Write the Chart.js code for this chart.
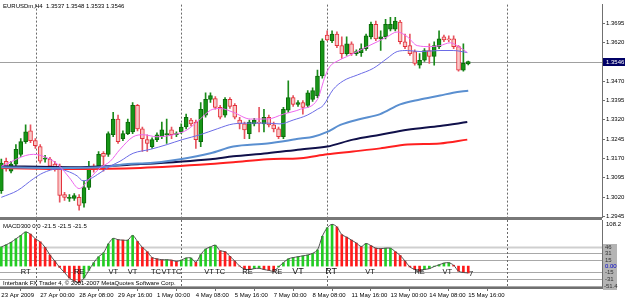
<!DOCTYPE html>
<html>
<head>
<meta charset="utf-8">
<script src="https://cdn.jsdelivr.net/npm/chart.js@4.4.0/dist/chart.umd.min.js"></script>
<style>
  html, body { margin: 0; padding: 0; background: #fff; }
  #wrap { position: relative; width: 625px; height: 300px; overflow: hidden; background: #fff; }
  canvas { position: absolute; left: 0; }
  #main { top: 0; }
  #macd { top: 217px; }
</style>
</head>
<body>
<div id="wrap">
  <canvas id="macd" width="625" height="83"></canvas>
  <canvas id="main" width="625" height="224"></canvas>
</div>
<script>
// EURUSDm H4 candles, bar 0 = 23 Apr 2009, last bar = 15 May 16:00
const opens = [1.3045,1.3159,1.3121,1.3148,1.3186,1.3235,1.3277,1.3239,1.3216,1.3167,
  1.3167,1.3148,1.3140,1.3030,1.3015,1.3015,1.3019,1.2996,1.3057,1.3140,
  1.3140,1.3190,1.3186,1.3262,1.3323,1.3247,1.3266,1.3273,1.3376,1.3285,
  1.3243,1.3216,1.3243,1.3254,1.3262,1.3281,1.3262,1.3273,1.3292,1.3319,
  1.3311,1.3235,1.3338,1.3399,1.3402,1.3368,1.3338,1.3399,1.3376,1.3319,
  1.3304,1.3266,1.3304,1.3311,1.3304,1.3330,1.3300,1.3285,1.3254,1.3357,
  1.3406,1.3380,1.3387,1.3376,1.3399,1.3414,1.3490,1.3649,1.3627,1.3653,
  1.3608,1.3577,1.3615,1.3577,1.3581,1.3596,1.3642,1.3691,1.3634,1.3642,
  1.3672,1.3672,1.3699,1.3623,1.3608,1.3585,1.3532,1.3551,1.3589,1.3566,
  1.3604,1.3642,1.3634,1.3634,1.3604,1.3513,1.3537];
const closes = [1.3152,1.3136,1.3148,1.3205,1.3235,1.3273,1.3239,1.3220,1.3159,1.3171,
  1.3140,1.3133,1.3026,1.3019,1.3019,1.3026,1.2988,1.3057,1.3133,1.3129,
  1.3186,1.3178,1.3266,1.3323,1.3235,1.3266,1.3311,1.3376,1.3285,1.3247,
  1.3228,1.3243,1.3262,1.3281,1.3266,1.3262,1.3266,1.3292,1.3330,1.3304,
  1.3243,1.3361,1.3399,1.3414,1.3368,1.3330,1.3399,1.3372,1.3330,1.3304,
  1.3281,1.3311,1.3319,1.3307,1.3330,1.3300,1.3285,1.3254,1.3361,1.3406,
  1.3380,1.3387,1.3368,1.3425,1.3433,1.3490,1.3627,1.3630,1.3653,1.3608,
  1.3577,1.3615,1.3577,1.3585,1.3596,1.3646,1.3691,1.3634,1.3642,1.3691,
  1.3691,1.3703,1.3623,1.3604,1.3577,1.3539,1.3551,1.3589,1.3566,1.3608,
  1.3634,1.3630,1.3630,1.3604,1.3513,1.3539,1.3546];
const highs = [1.3167,1.3171,1.3159,1.3224,1.3247,1.3300,1.3300,1.3247,1.3224,1.3182,
  1.3174,1.3159,1.3148,1.3038,1.3030,1.3034,1.3030,1.3083,1.3159,1.3148,
  1.3197,1.3197,1.3273,1.3349,1.3338,1.3277,1.3323,1.3387,1.3380,1.3292,
  1.3262,1.3250,1.3269,1.3311,1.3323,1.3292,1.3273,1.3304,1.3342,1.3326,
  1.3319,1.3387,1.3425,1.3425,1.3410,1.3376,1.3406,1.3406,1.3383,1.3330,
  1.3311,1.3319,1.3326,1.3368,1.3361,1.3338,1.3311,1.3292,1.3368,1.3471,
  1.3414,1.3395,1.3395,1.3433,1.3444,1.3513,1.3634,1.3665,1.3665,1.3661,
  1.3642,1.3642,1.3623,1.3592,1.3615,1.3653,1.3699,1.3703,1.3665,1.3710,
  1.3718,1.3718,1.3706,1.3653,1.3653,1.3592,1.3577,1.3596,1.3615,1.3623,
  1.3665,1.3649,1.3646,1.3646,1.3608,1.3615,1.3548];
const lows = [1.3034,1.3121,1.3114,1.3140,1.3178,1.3228,1.3231,1.3209,1.3152,1.3155,
  1.3129,1.3121,1.3000,1.3007,1.3003,1.3007,1.2969,1.2981,1.3049,1.3117,
  1.3133,1.3121,1.3178,1.3254,1.3228,1.3239,1.3262,1.3266,1.3277,1.3197,
  1.3197,1.3209,1.3235,1.3247,1.3228,1.3247,1.3254,1.3266,1.3285,1.3296,
  1.3209,1.3216,1.3330,1.3387,1.3361,1.3323,1.3330,1.3364,1.3323,1.3285,
  1.3247,1.3247,1.3296,1.3273,1.3273,1.3292,1.3273,1.3247,1.3247,1.3349,
  1.3372,1.3372,1.3342,1.3368,1.3391,1.3406,1.3482,1.3627,1.3619,1.3600,
  1.3558,1.3570,1.3570,1.3570,1.3566,1.3589,1.3634,1.3627,1.3589,1.3634,
  1.3665,1.3665,1.3615,1.3596,1.3570,1.3532,1.3520,1.3547,1.3539,1.3532,
  1.3596,1.3623,1.3623,1.3596,1.3509,1.3509,1.3533];

// moving averages, read at bar positions
const maFastBars = [0,6.6,10,12,14,16,18.3,20.3,22.4,24.4,27.1,29.2,32,36.2,38.2,40.9,43,45,47.7,51.2,54.7,58,61.5,65,66.6,67.6,69,71.1,73.2,75.2,77.3,79.3,81.4,83.5,85.5,88.2,90.2,92.3,93.7,95.8];
const maFast = [1.3140,1.3186,1.3167,1.3140,1.3095,1.3053,1.3095,1.3133,1.3159,1.3205,1.3254,1.3262,1.3254,1.3266,1.3281,1.3323,1.3357,1.3364,1.3349,1.3323,1.3323,1.3342,1.3361,1.3399,1.3490,1.3528,1.3547,1.3566,1.3585,1.3604,1.3623,1.3642,1.3661,1.3642,1.3608,1.3604,1.3608,1.3619,1.3608,1.3581];
const maMidBars = [0,3.3,6.6,8.6,11.5,13.5,15.6,16.8,18.3,20.3,22.4,24.4,27.1,30.6,34.1,37.2,40.9,44.4,47.7,51.2,54.7,57.3,60,62.9,65,66.2,68.2,70.3,73.2,76.5,79.3,81.4,83.5,86.1,90.2,92.9,95.8];
const maMid = [1.3019,1.3045,1.3091,1.3114,1.3129,1.3121,1.3102,1.3083,1.3091,1.3114,1.3140,1.3159,1.3190,1.3205,1.3224,1.3243,1.3262,1.3285,1.3304,1.3307,1.3307,1.3304,1.3319,1.3338,1.3361,1.3376,1.3437,1.3471,1.3494,1.3520,1.3558,1.3585,1.3589,1.3585,1.3589,1.3589,1.3581];
const maSlowBars = [0,10,20.3,26,30.6,36.8,43,47.7,54.7,61.5,64.1,67,69.7,73.8,77.9,82,86.1,90.2,92.9,96];
const maSlow = [1.3136,1.3133,1.3136,1.3148,1.3152,1.3167,1.3190,1.3216,1.3228,1.3247,1.3254,1.3273,1.3300,1.3323,1.3342,1.3380,1.3399,1.3414,1.3425,1.3433];
const maLongBars = [0,14.2,28.6,43,47.7,54.7,61.5,67,72.3,77.9,83.5,90.2,95.8];
const maLong = [1.3140,1.3136,1.3148,1.3167,1.3178,1.3190,1.3205,1.3216,1.3243,1.3262,1.3281,1.3296,1.3311];
const maLongest = [1.3133,1.3129,1.3133,1.3148,1.3155,1.3167,1.3171,1.3186,1.3197,1.3209,1.3224,1.3228,1.3243];

// MACD300 histogram, one value per bar
const macdValues = [45,50,56,64,72,80,75,64,57,44,
  26,12,-3,-15,-28,-35,-39,-28,-10,8,
  22,31,52,65,62,61,61,72,58,44,
  34,20,17,15,15,14,11,14,19,19,
  9,27,40,45,49,36,34,23,12,0,
  -7,-8,-6,-5,-8,-10,-12,-2,8,17,
  20,22,24,26,30,38,70,90,98,92,
  74,68,61,54,46,53,48,42,41,42,
  42,34,25,12,-2,-8,-12,-8,-6,-1,
  3,7,8,2,-12,-15,-16];
const macdLevels = [46, 31, 15, -15, -31, -46];
const macdLevelLabels = [46, 31, 15, 0, -15, -31];
const annoBars = [5, 16, 23, 27, 31.8, 33.9, 36, 42.7, 45, 50.6, 56.7, 61, 67.8, 75.8, 86, 91.7, 96.6];
const annoTexts = ['RT','RE','VT','VT','TC','VT','TC','VT','TC','RE','RE','VT','RT','VT','RE','VT','7'];

const timeLabels = ['23 Apr 2009','27 Apr 00:00','28 Apr 08:00','29 Apr 16:00','1 May 00:00','4 May 08:00',
  '5 May 16:00','7 May 00:00','8 May 08:00','11 May 16:00','13 May 00:00','14 May 08:00','15 May 16:00'];
const priceTicks = [1.2945,1.3020,1.3095,1.3170,1.3245,1.3320,1.3395,1.3470,1.3620,1.3695];
const separatorBars = [7.2, 37, 67, 104];
const bidPrice = closes[closes.length - 1];

const X_MIN = -0.27, X_MAX = 123.5;
const FONT = 'Liberation Sans';
const isUp = i => closes[i] >= opens[i];
const pts = (xs, ys) => xs.map((x, i) => ({ x: x, y: ys[i] }));

function drawSeparators(chart) {
  const { ctx, chartArea: a, scales: { x } } = chart;
  ctx.save();
  ctx.strokeStyle = '#6a6a6a';
  ctx.lineWidth = 1;
  ctx.setLineDash([2, 2]);
  separatorBars.forEach(b => {
    const px = Math.round(x.getPixelForValue(b)) + 0.5;
    ctx.beginPath();
    ctx.moveTo(px, a.top);
    ctx.lineTo(px, a.bottom);
    ctx.stroke();
  });
  ctx.restore();
}

const mainDecor = {
  id: 'mainDecor',
  beforeDatasetsDraw(chart) {
    drawSeparators(chart);
    const { ctx, chartArea: a, scales: { y } } = chart;
    const py = Math.round(y.getPixelForValue(bidPrice)) + 0.5;
    ctx.save();
    ctx.strokeStyle = '#a0a0a0';
    ctx.lineWidth = 1;
    ctx.beginPath();
    ctx.moveTo(a.left, py);
    ctx.lineTo(a.right, py);
    ctx.stroke();
    ctx.restore();
  },
  afterDraw(chart) {
    const { ctx, chartArea: a, scales: { y } } = chart;
    const last = closes.length - 1;
    ctx.save();
    ctx.font = '6px "' + FONT + '"';
    ctx.textBaseline = 'middle';
    ctx.fillStyle = '#000';
    ctx.fillText('EURUSDm,H4  ' + [opens[last], highs[last], lows[last], closes[last]].map(v => v.toFixed(4)).join(' '), 3, 6);
    // current price box
    const py = Math.round(y.getPixelForValue(bidPrice));
    ctx.fillStyle = '#000066';
    ctx.fillRect(a.right + 1, py - 4, 22, 8);
    ctx.fillStyle = '#fff';
    ctx.fillText(bidPrice.toFixed(4), a.right + 4, py);
    ctx.restore();
  }
};

const macdDecor = {
  id: 'macdDecor',
  beforeDatasetsDraw(chart) {
    const { ctx, chartArea: a, scales: { y } } = chart;
    ctx.save();
    ctx.fillStyle = '#787878';
    ctx.fillRect(0, 0, a.right, 3);
    macdLevels.forEach((lv, k) => {
      const py = Math.round(y.getPixelForValue(lv)) + 0.5;
      ctx.strokeStyle = k === 0 ? '#cfcfcf' : '#a8a8a8';
      ctx.lineWidth = k === 0 ? 2 : 1;
      ctx.beginPath();
      ctx.moveTo(a.left, py);
      ctx.lineTo(a.right, py);
      ctx.stroke();
    });
    ctx.restore();
    drawSeparators(chart);
  },
  afterDraw(chart) {
    const { ctx, chartArea: a, scales: { x, y } } = chart;
    ctx.save();
    ctx.textBaseline = 'middle';
    ctx.fillStyle = '#000';
    ctx.font = '6px "' + FONT + '"';
    ctx.fillText('MACD300 0.0 -21.5 -21.5 -21.5', 3, 9);
    ctx.fillText('Interbank FX Trader 4, \u00a9 2001-2007 MetaQuotes Software Corp.', 3, 66);
    // signal annotations
    ctx.textAlign = 'center';
    annoBars.forEach((b, i) => {
      const big = (b === 61 || b === 67.8);
      ctx.font = (big ? 9 : 7.5) + 'px "' + FONT + '"';
      ctx.fillStyle = '#111';
      ctx.fillText(annoTexts[i], x.getPixelForValue(b), y.getPixelForValue(-13) + (annoTexts[i] === '7' ? 2 : 0));
    });
    // right scale labels
    ctx.textAlign = 'left';
    ctx.font = '6px "' + FONT + '"';
    ctx.fillStyle = '#000';
    ctx.fillText(y.max.toFixed(1), a.right + 4, 7);
    macdLevelLabels.forEach(lv => {
      const py = Math.round(y.getPixelForValue(lv));
      ctx.fillStyle = '#b4b4b4';
      ctx.fillRect(a.right + 1, py - 3, 14, 7);
      ctx.fillStyle = lv === 0 ? '#0000cc' : '#333';
      ctx.fillText(lv === 0 ? '0.00' : String(lv), a.right + 3, py + 0.5);
    });
    const pb = Math.round(a.bottom - 2);
    ctx.fillStyle = '#b4b4b4';
    ctx.fillRect(a.right + 1, pb - 3, 14, 7);
    ctx.fillStyle = '#333';
    ctx.fillText(y.min.toFixed(1), a.right + 2, pb + 0.5);
    ctx.restore();
  }
};

new Chart(document.getElementById('main'), {
  type: 'bar',
  data: {
    datasets: [
      { type: 'line', data: pts(maFastBars, maFast), borderColor: '#ee66ee', borderWidth: 1, pointRadius: 0, cubicInterpolationMode: 'monotone', order: 0 },
      { type: 'line', data: pts(maMidBars, maMid), borderColor: '#6b6be6', borderWidth: 1, pointRadius: 0, cubicInterpolationMode: 'monotone', order: 1 },
      { type: 'line', data: pts(maSlowBars, maSlow), borderColor: '#5a8fd0', borderWidth: 2, pointRadius: 0, cubicInterpolationMode: 'monotone', order: 2 },
      { type: 'line', data: pts(maLongBars, maLong), borderColor: '#10104a', borderWidth: 2, pointRadius: 0, cubicInterpolationMode: 'monotone', order: 3 },
      { type: 'line', data: pts(maLongBars, maLongest), borderColor: '#ff2020', borderWidth: 2, pointRadius: 0, cubicInterpolationMode: 'monotone', order: 4 },
      {
        data: opens.map((o, i) => ({ x: i, y: [o, closes[i]] })),
        backgroundColor: c => isUp(c.dataIndex) ? '#169616' : '#f8c6c6',
        borderColor: c => isUp(c.dataIndex) ? '#0b6a0b' : '#e4323c',
        borderWidth: 1, borderSkipped: false, barThickness: 4, minBarLength: 1, grouped: false, order: 5
      },
      {
        data: lows.map((l, i) => ({ x: i, y: [l, highs[i]] })),
        backgroundColor: c => isUp(c.dataIndex) ? '#1a8a1a' : '#e65560',
        barThickness: 1, grouped: false, order: 6
      }
    ]
  },
  options: {
    responsive: false,
    animation: false,
    events: [],
    layout: { padding: { left: 0, right: 0, top: 0, bottom: 7 } },
    plugins: { legend: { display: false }, tooltip: { enabled: false } },
    scales: {
      x: { type: 'linear', min: X_MIN, max: X_MAX, offset: false, display: false },
      y: {
        position: 'right', min: 1.29426, max: 1.37672,
        afterFit(s) { s.width = 23; },
        afterBuildTicks(s) { s.ticks = priceTicks.map(v => ({ value: v })); },
        ticks: { callback: v => Number(v).toFixed(4), font: { family: FONT, size: 6 }, color: '#000', padding: 1 },
        grid: { drawOnChartArea: false, tickLength: 3, color: '#707070' },
        border: { color: '#707070' }
      }
    }
  },
  plugins: [mainDecor]
});

new Chart(document.getElementById('macd'), {
  type: 'bar',
  data: {
    datasets: [
      { type: 'line', data: macdValues.map((v, i) => ({ x: i, y: v })), borderColor: '#505050', borderWidth: 1, pointRadius: 0, tension: 0.3, order: 0 },
      {
        data: macdValues.map((v, i) => ({ x: i, y: v })),
        backgroundColor: c => (c.dataIndex === 0 || macdValues[c.dataIndex] >= macdValues[c.dataIndex - 1]) ? '#22cc22' : '#ff1a1a',
        barThickness: 2, grouped: false, order: 1
      }
    ]
  },
  options: {
    responsive: false,
    animation: false,
    events: [],
    layout: { padding: { left: 0, right: 0, top: 3, bottom: 0 } },
    plugins: { legend: { display: false }, tooltip: { enabled: false } },
    scales: {
      x: {
        type: 'linear', min: X_MIN, max: X_MAX, offset: false,
        afterFit(s) { s.height = 12; },
        afterBuildTicks(s) { s.ticks = timeLabels.map((t, k) => ({ value: k * 8 })); },
        ticks: { callback: v => timeLabels[Math.round(v / 8)], align: 'start', autoSkip: false, maxRotation: 0, font: { family: FONT, size: 6 }, color: '#000', padding: 1 },
        grid: { drawOnChartArea: false, tickLength: 3, color: '#707070' },
        border: { color: '#707070', width: 2 }
      },
      y: {
        position: 'right', min: -51.4, max: 108.2,
        afterFit(s) { s.width = 23; },
        ticks: { display: false },
        grid: { display: false },
        border: { color: '#707070' }
      }
    }
  },
  plugins: [macdDecor]
});
</script>
</body>
</html>
